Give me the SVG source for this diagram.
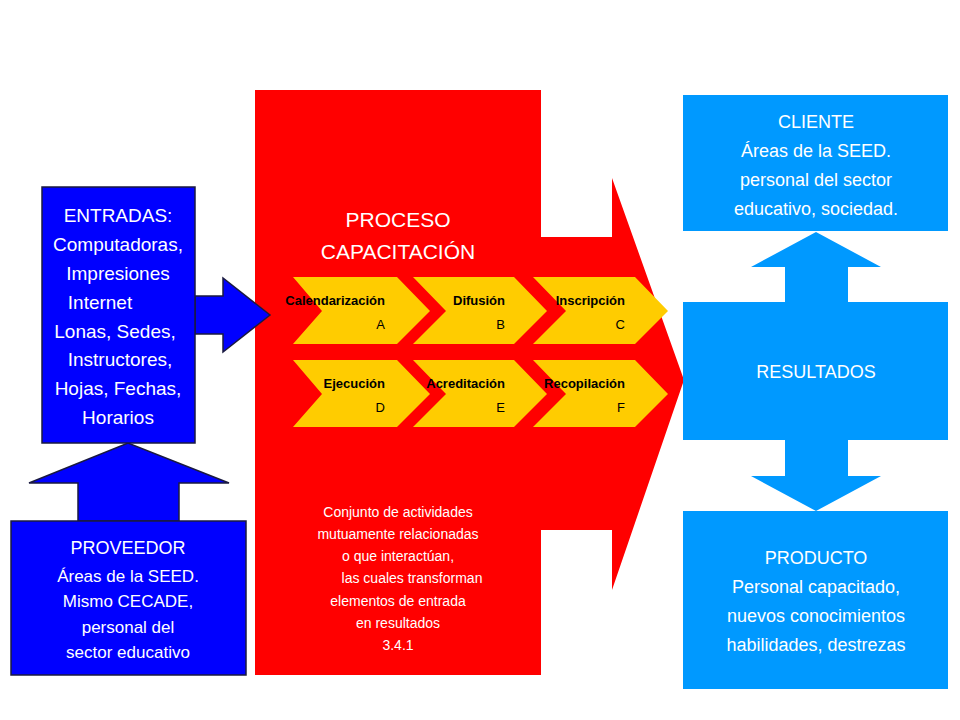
<svg xmlns="http://www.w3.org/2000/svg" width="960" height="720" viewBox="0 0 960 720">
<style>
.w{fill:#fff;font-family:"Liberation Sans",Arial,sans-serif;text-anchor:middle}
.b{fill:#0000ff;stroke:#1a1a40;stroke-width:1.5}
.c{fill:#0099ff}
.y{fill:#ffcc00}
.k{font-family:"Liberation Sans",Arial,sans-serif;font-size:13px;fill:#000}
</style>
<rect width="960" height="720" fill="#fff"/>
<g id="proceso">
<path d="M255 90H541V237H612V178L684 380L612 590V530H541V675H255Z" fill="#ff0000"/>
<text class="w" font-size="21"><tspan x="398" y="227">PROCESO</tspan><tspan x="398" y="259">CAPACITACIÓN</tspan></text>
<text class="w" font-size="14"><tspan x="398" y="517">Conjunto de actividades</tspan><tspan x="398" y="539">mutuamente relacionadas</tspan><tspan x="398" y="561">o que interactúan,</tspan><tspan x="412" y="583">las cuales transforman</tspan><tspan x="398" y="606">elementos de entrada</tspan><tspan x="398" y="628">en resultados</tspan><tspan x="398" y="650">3.4.1</tspan></text>
</g>
<g id="connectors">
<path class="b" d="M195 296H223V278L270 315L223 352V334H195Z"/>
<path class="b" d="M78 521V483H29L128 443L229 483H179V521Z"/>
<path class="c" d="M785 302V267H751L816 232L881 267H848V302Z"/>
<path class="c" d="M785 440V476H751L816 511L881 476H848V440Z"/>
</g>
<g id="chevrons">
<path class="y" d="M293 277H397L430 311L397 344H293L322 311Z"/>
<path class="y" d="M413 277H514L547 311L514 344H413L446 311Z"/>
<path class="y" d="M533 277H635L668 311L635 344H533L566 311Z"/>
<path class="y" d="M293 360H397L430 394L397 427H293L322 394Z"/>
<path class="y" d="M413 360H514L547 394L514 427H413L446 394Z"/>
<path class="y" d="M533 360H635L668 394L635 427H533L566 394Z"/>
<g class="k" text-anchor="end">
<text x="385" y="305" font-weight="bold">Calendarización</text><text x="385" y="329">A</text>
<text x="505" y="305" font-weight="bold">Difusión</text><text x="505" y="329">B</text>
<text x="625" y="305" font-weight="bold">Inscripción</text><text x="625" y="329">C</text>
<text x="385" y="388" font-weight="bold">Ejecución</text><text x="385" y="412">D</text>
<text x="505" y="388" font-weight="bold">Acreditación</text><text x="505" y="412">E</text>
<text x="625" y="388" font-weight="bold">Recopilación</text><text x="625" y="412">F</text>
</g>
</g>
<g id="entradas">
<rect class="b" x="42" y="187" width="153" height="256"/>
<text class="w" font-size="19"><tspan x="118" y="222">ENTRADAS:</tspan><tspan x="118" y="251">Computadoras,</tspan><tspan x="118" y="280">Impresiones</tspan><tspan x="100" y="309">Internet</tspan><tspan x="115" y="338">Lonas, Sedes,</tspan><tspan x="120" y="366">Instructores,</tspan><tspan x="118" y="395">Hojas, Fechas,</tspan><tspan x="118" y="424">Horarios</tspan></text>
</g>
<g id="proveedor">
<rect class="b" x="11" y="521" width="235" height="154"/>
<text class="w" font-size="17"><tspan x="128" y="554" font-size="18">PROVEEDOR</tspan><tspan x="128" y="582">Áreas de la SEED.</tspan><tspan x="128" y="607">Mismo CECADE,</tspan><tspan x="128" y="633">personal del</tspan><tspan x="128" y="658">sector educativo</tspan></text>
</g>
<g id="cliente">
<rect class="c" x="683" y="95" width="265" height="136"/>
<text class="w" font-size="18"><tspan x="816" y="128">CLIENTE</tspan><tspan x="816" y="157">Áreas de la SEED.</tspan><tspan x="816" y="186">personal del  sector</tspan><tspan x="816" y="215">educativo, sociedad.</tspan></text>
</g>
<g id="resultados">
<rect class="c" x="683" y="302" width="265" height="138"/>
<text class="w" font-size="18" x="816" y="378">RESULTADOS</text>
</g>
<g id="producto">
<rect class="c" x="683" y="511" width="265" height="178"/>
<text class="w" font-size="18"><tspan x="816" y="564">PRODUCTO</tspan><tspan x="816" y="593">Personal capacitado,</tspan><tspan x="816" y="622">nuevos conocimientos</tspan><tspan x="816" y="651">habilidades, destrezas</tspan></text>
</g>
</svg>
